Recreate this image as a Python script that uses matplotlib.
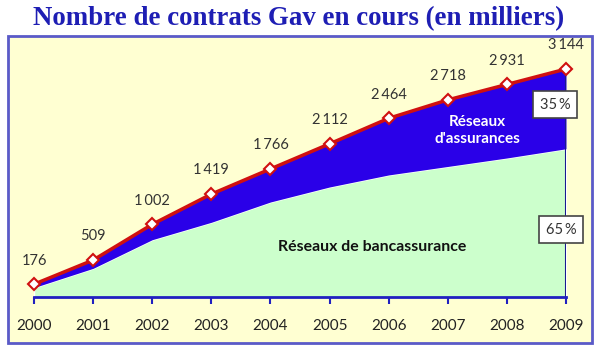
import matplotlib.pyplot as plt
from matplotlib.patches import Rectangle

# Données (en milliers de contrats)
annees = [2000, 2001, 2002, 2003, 2004, 2005, 2006, 2007, 2008, 2009]
total = [176, 509, 1002, 1419, 1766, 2112, 2464, 2718, 2931, 3144]
bancassurance = [130, 395, 790, 1030, 1310, 1517, 1683, 1800, 1917, 2044]
etiquettes = ["176", "509", "1\u2009002", "1\u2009419", "1\u2009766", "2\u2009112",
              "2\u2009464", "2\u2009718", "2\u2009931", "3\u2009144"]
parts = ["35\u2009%", "65\u2009%"]

police = ["Lato", "DejaVu Sans"]
bleu = "#2a00e8"
vert = "#ccffcc"
jaune = "#ffffd2"

fig = plt.figure(figsize=(6, 3.53), dpi=100)
W, H = 600, 353

# cadre extérieur
fig.patches.append(Rectangle((8 / W, 1 - 343 / H), 584 / W, 307 / H,
                             transform=fig.transFigure, facecolor=jaune,
                             edgecolor="#5a5ac8", linewidth=2, zorder=-5))

fig.text(299 / W, 1 - 19 / H, "Nombre de contrats Gav en cours (en milliers)",
         ha="center", va="center", fontsize=19.4, fontweight="bold",
         family="Liberation Serif", color="#1e1eb4")

ax = fig.add_axes([34 / W, 56 / H, 532 / W, 252 / H])
ax.patch.set_alpha(0)
ax.set_xlim(2000, 2009)
ax.set_ylim(0, 3475)

ax.fill_between(annees, 0, bancassurance, color=vert, edgecolor="white", linewidth=1, zorder=1)
ax.fill_between(annees, bancassurance, total, color=bleu, linewidth=0, zorder=1)
ax.vlines(2009, 0, total[-1], color="#1a1a90", linewidth=1.5, zorder=2)
ax.plot(annees, total, color="#d01010", linewidth=2.5, marker="D", markersize=6,
        markerfacecolor="white", markeredgecolor="#d01010", markeredgewidth=1.5,
        clip_on=False, zorder=3)

for x, y, t in zip(annees, total, etiquettes):
    ax.annotate(t, (x, y), xytext=(0, 17), textcoords="offset points",
                ha="center", va="center", fontsize=10.5, family=police, color="#333333")

ax.text(7.5 + 2000, 2300, "Réseaux\nd'assurances", ha="center", va="center",
        fontsize=11, fontweight="bold", family=police, color="white",
        linespacing=1.3, zorder=4)
ax.text(2005.72, 690, "Réseaux de bancassurance", ha="center", va="center",
        fontsize=11.4, fontweight="bold", family=police, color="#111111", zorder=4)

boite = dict(boxstyle="square,pad=0.45", facecolor="white", edgecolor="#444444", linewidth=1.2)
ax.text(2009 - 11 / 532 * 9, 2650, parts[0], ha="center", va="center", fontsize=10.5,
        family=police, color="#333333", bbox=boite, zorder=5, clip_on=False)
ax.text(2009 - 5 / 532 * 9, 925, parts[1], ha="center", va="center", fontsize=10.5,
        family=police, color="#333333", bbox=boite, zorder=5, clip_on=False)

for s in ["top", "left", "right"]:
    ax.spines[s].set_visible(False)
ax.spines["bottom"].set_color("#2020c0")
ax.spines["bottom"].set_linewidth(2)
ax.set_yticks([])
ax.set_xticks(annees)
ax.set_xticklabels([str(a) for a in annees], fontsize=11, family=police, color="#222222")
ax.tick_params(axis="x", direction="out", length=5, width=1.5, color="#2020c0", pad=11)

fig.savefig("out.png", dpi=100)
